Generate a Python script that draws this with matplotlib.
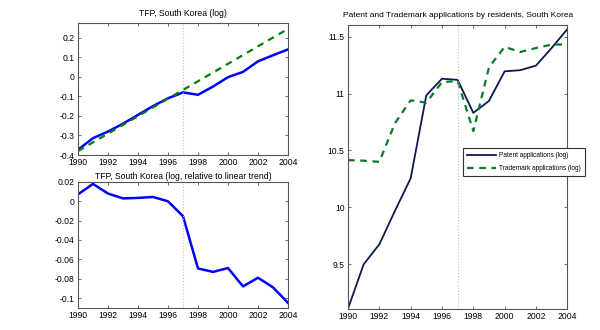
import matplotlib
matplotlib.use("Agg")
import matplotlib.pyplot as plt

years = [1990, 1991, 1992, 1993, 1994, 1995, 1996, 1997, 1998, 1999, 2000, 2001, 2002, 2003, 2004]
tfp_log = [-0.373, -0.314, -0.28, -0.24, -0.195, -0.15, -0.11, -0.08, -0.092, -0.05, -0.002, 0.025, 0.079, 0.11, 0.14]
trend_years = [1990, 2004]
trend_log = [-0.38, 0.245]
tfp_resid = [0.0072, 0.018, 0.008, 0.003, 0.0035, 0.0045, 0.0, -0.0154, -0.0694, -0.073, -0.069, -0.088, -0.079, -0.089, -0.105]
patent_log = [9.11, 9.5, 9.675, 9.97, 10.255, 10.985, 11.13, 11.12, 10.83, 10.935, 11.195, 11.205, 11.245, 11.4, 11.565]
trademark_log = [10.415, 10.41, 10.40, 10.74, 10.94, 10.92, 11.10, 11.11, 10.67, 11.23, 11.41, 11.365, 11.40, 11.43, 11.43]
xticks = [1990, 1992, 1994, 1996, 1998, 2000, 2002, 2004]
break_year = 1997

plt.rcParams['font.family'] = ['Liberation Sans', 'DejaVu Sans']
tick_fs, title_fs, leg_fs = 6.2, 6.2, 4.7

fig = plt.figure(figsize=(6, 3.3), dpi=100)
ax1 = fig.add_axes([0.13, 0.5303, 0.35, 0.40])
ax2 = fig.add_axes([0.13, 0.0676, 0.35, 0.381])
ax3 = fig.add_axes([0.58, 0.0636, 0.3655, 0.861])

def style(ax):
    for s in ax.spines.values():
        s.set_color('#555555')
        s.set_linewidth(0.8)
    ax.tick_params(direction='in', length=2.5, width=0.6, color='#555555',
                   top=True, right=True, labelsize=tick_fs, pad=2.5)
    ax.set_xticks(xticks)
    ax.set_xlim(1990, 2004)

ax1.plot(years, tfp_log, color='#0000FF', lw=1.8)
ax1.plot(trend_years, trend_log, color='#008000', lw=1.6, ls=(0, (3, 2.5)))
ax1.axvline(break_year, color='#BBBBBB', lw=0.8, ls=':')
ax1.set_ylim(-0.4, 0.275)
ax1.set_yticks([-0.4, -0.3, -0.2, -0.1, 0, 0.1, 0.2])
ax1.set_yticklabels(['-0.4', '-0.3', '-0.2', '-0.1', '0', '0.1', '0.2'])
ax1.set_title('TFP, South Korea (log)', fontsize=title_fs, pad=5)
style(ax1)

ax2.plot(years, tfp_resid, color='#0000FF', lw=1.8)
ax2.axvline(break_year, color='#BBBBBB', lw=0.8, ls=':')
ax2.set_ylim(-0.11, 0.02)
ax2.set_yticks([-0.1, -0.08, -0.06, -0.04, -0.02, 0, 0.02])
ax2.set_yticklabels(['-0.1', '-0.08', '-0.06', '-0.04', '-0.02', '0', '0.02'])
ax2.set_title('TFP, South Korea (log, relative to linear trend)', fontsize=title_fs, pad=2)
style(ax2)

ax3.plot(years, patent_log, color='#0A1A50', lw=1.3, label='Patent applications (log)')
ax3.plot(years, trademark_log, color='#0A7A2A', lw=1.6, ls=(0, (3, 2.5)), label='Trademark applications (log)')
ax3.axvline(break_year, color='#BBBBBB', lw=0.8, ls=':')
ax3.set_ylim(9.107, 11.603)
ax3.set_yticks([9.5, 10, 10.5, 11, 11.5])
ax3.set_yticklabels(['9.5', '10', '10.5', '11', '11.5'])
ax3.set_title('Patent and Trademark applications by residents, South Korea', fontsize=6.0, pad=6)
style(ax3)
leg = ax3.legend(loc='upper left', bbox_to_anchor=(463/600, 1-148/330), bbox_transform=fig.transFigure,
                 fontsize=leg_fs, frameon=True, fancybox=False, borderpad=0.65, handlelength=4.4,
                 handletextpad=0.4, labelspacing=0.85, borderaxespad=0)
leg.get_frame().set_edgecolor('#333333')
leg.get_frame().set_linewidth(0.8)
leg.get_frame().set_alpha(1)

fig.savefig('out.png', dpi=100)
